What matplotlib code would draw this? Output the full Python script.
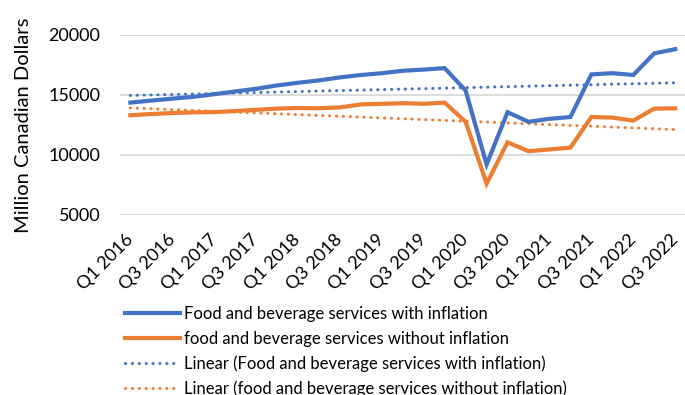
import numpy as np
import matplotlib as mpl
mpl.use('Agg')
import matplotlib.pyplot as plt

plt.rcParams['font.family'] = ['Lato', 'DejaVu Sans']

# quarterly data, Q1 2016 .. Q3 2022
quarters = []
for yr in range(2016, 2023):
    for q in range(1, 5):
        quarters.append('Q%d %d' % (q, yr))
quarters = quarters[:27]

with_infl = [14350, 14520, 14680, 14830, 15050, 15280, 15500, 15780, 16000,
             16200, 16450, 16650, 16800, 17000, 17100, 17220, 15350, 9200,
             13550, 12750, 13000, 13150, 16700, 16800, 16650, 18450, 18800]
without_infl = [13300, 13400, 13480, 13540, 13560, 13650, 13750, 13850, 13900,
                13880, 13950, 14200, 14250, 14300, 14250, 14350, 12750, 7600,
                11050, 10300, 10450, 10600, 13150, 13100, 12850, 13850, 13870]

yticks = [5000, 10000, 15000, 20000]

BLUE = '#4472C4'
ORANGE = '#ED7D31'

fig = plt.figure(figsize=(6.85, 3.95), dpi=100)
ax = fig.add_axes([0.175, 0.456, 0.826, 0.456])

x = np.arange(len(quarters))
ax.plot(x, with_infl, color=BLUE, lw=3.0, solid_joinstyle='miter',
        label='Food and beverage services with inflation', zorder=3)
ax.plot(x, without_infl, color=ORANGE, lw=3.0, solid_joinstyle='miter',
        label='food and beverage services without inflation', zorder=3)

# linear trendlines (like Excel)
for vals, col, name in [(with_infl, BLUE, 'Linear (Food and beverage services with inflation)'),
                        (without_infl, ORANGE, 'Linear (food and beverage services without inflation)')]:
    k, b = np.polyfit(x, vals, 1)
    ax.plot(x, k * x + b, color=col, lw=2.2, linestyle=(0, (0.05, 2.2)),
            dash_capstyle='round', label=name, zorder=2)

ax.set_xlim(-0.5, len(quarters) - 0.5)
ax.set_ylim(5000, 20000)
ax.set_yticks(yticks)
ax.set_xticks(x[::2])
ax.set_xticklabels(quarters[::2], rotation=45, ha='right', va='center',
                   rotation_mode='anchor')
ax.tick_params(axis='both', length=0, labelsize=13, colors='black')
ax.tick_params(axis='x', pad=16)
ax.tick_params(axis='y', pad=14)
ax.grid(axis='y', color='#D9D9D9', lw=1.3)
ax.set_axisbelow(True)
for s in ax.spines.values():
    s.set_visible(False)

ax.set_ylabel('Million Canadian Dollars', fontsize=14.5, labelpad=12)

fig.legend(loc='upper left', bbox_to_anchor=(0.183, 0.225), frameon=False,
           fontsize=12, handlelength=3.3, handletextpad=0.2,
           labelspacing=0.52, borderaxespad=0, borderpad=0)

fig.savefig('out.png', dpi=100)
